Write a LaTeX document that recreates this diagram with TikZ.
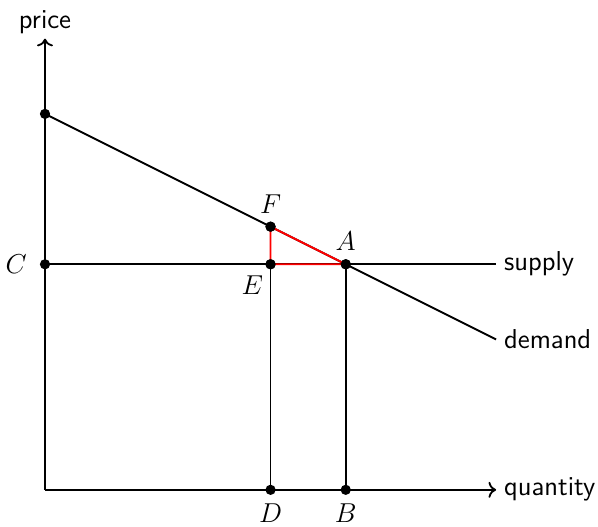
\documentclass[tikz,border=0pt]{standalone}
\usepackage{tikz}
\usetikzlibrary{arrows.meta, positioning}

\begin{document}
\begin{tikzpicture}[
    x=0.58cm, y=0.58cm,
    every node/.style={font=\sffamily\large},
    markdot/.style={circle, fill=black, inner sep=0pt, minimum size=4.5pt},
    ptlabel/.style={font=\normalfont\large},
    axisline/.style={thick, ->},
    curveline/.style={thick},
    gapline/.style={thick, red},
]
\useasboundingbox (-1.197,-0.984) rectangle (14.71,13.03);
% axes
\coordinate (O) at (0,0);
\coordinate (ytop) at (0,12);
\coordinate (xend) at (12,0);
\draw[axisline] (O) -- (ytop);
\draw[axisline] (O) -- (xend);
\node[anchor=south, inner sep=2pt] (price) at (ytop) {price};
\node[anchor=west] (quantity) at (xend) {quantity};
% points
\node[markdot] (P) at (0,10) {};
\node[markdot] (C) at (0,6) {};
\node[markdot] (F) at (6,7) {};
\node[markdot] (E) at (6,6) {};
\node[markdot] (A) at (8,6) {};
\node[markdot] (D) at (6,0) {};
\node[markdot] (B) at (8,0) {};
\coordinate (send) at (12,6);
\coordinate (dend) at (12,4);
% supply and demand
\draw[curveline] (C.center) -- (send);
\draw[curveline] (P.center) -- (dend);
\node[anchor=west] (supply) at (send) {supply};
\node[anchor=west] (demand) at (dend) {demand};
\draw[curveline] (E.center) -- (D.center);
\draw[curveline] (A.center) -- (B.center);
\draw[gapline] (F.center) -- (E.center) -- (A.center) -- cycle;
\node[markdot] at (F) {};
\node[markdot] at (E) {};
\node[markdot] at (A) {};
% labels
\node[ptlabel, left=2pt of C] (Clab) {$C$};
\node[ptlabel, above=0pt of F] (Flab) {$F$};
\node[ptlabel, below left=0pt and -2pt of E] (Elab) {$E$};
\node[ptlabel, above=0pt of A] (Alab) {$A$};
\node[ptlabel, below=0pt of D] (Dlab) {$D$};
\node[ptlabel, below=0pt of B] (Blab) {$B$};
\end{tikzpicture}
\end{document}
